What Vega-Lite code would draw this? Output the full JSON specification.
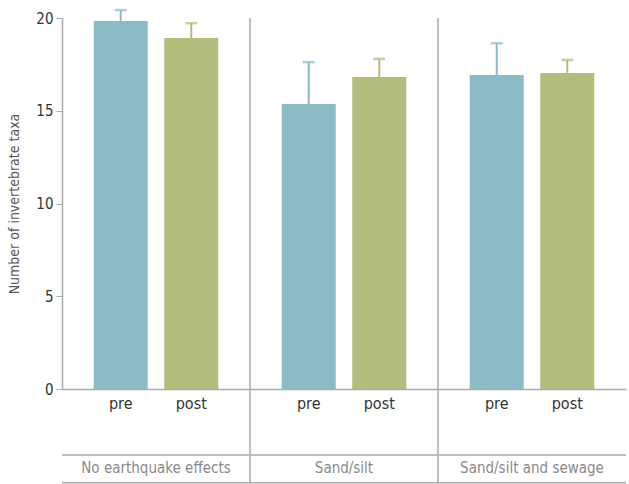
{
  "$schema": "https://vega.github.io/schema/vega-lite/v6.json",
  "width": 564,
  "height": 371,
  "autosize": {"type": "none"},
  "padding": {"left": 62, "top": 18, "right": 3, "bottom": 95},
  "background": "white",
  "config": {
    "view": {"stroke": null},
    "font": "Liberation Sans Narrow, DejaVu Sans Condensed, Roboto Condensed, Arial Narrow, sans-serif"
  },
  "datasets": {
    "bars": [
      {"group": "No earthquake effects", "period": "pre", "value": 19.84, "upper": 20.43},
      {"group": "No earthquake effects", "period": "post", "value": 18.92, "upper": 19.72},
      {"group": "Sand/silt", "period": "pre", "value": 15.36, "upper": 17.62},
      {"group": "Sand/silt", "period": "post", "value": 16.82, "upper": 17.8},
      {"group": "Sand/silt and sewage", "period": "pre", "value": 16.93, "upper": 18.64},
      {"group": "Sand/silt and sewage", "period": "post", "value": 17.04, "upper": 17.74}
    ],
    "separators": [
      {"group": "Sand/silt", "top": 20, "bottom": -5.1},
      {"group": "Sand/silt and sewage", "top": 20, "bottom": -5.1}
    ],
    "hlines": [
      {"level": -3.56},
      {"level": -5.05}
    ]
  },
  "data": {"name": "bars"},
  "layer": [
    {
      "mark": {"type": "bar"},
      "encoding": {
        "x": {
          "field": "group", "type": "nominal", "sort": null,
          "scale": {"domain": ["No earthquake effects", "Sand/silt", "Sand/silt and sewage"], "paddingInner": 0, "paddingOuter": 0},
          "axis": {"title": null, "ticks": false, "domainColor": "#aaaaaa", "domainWidth": 1.5, "labelPadding": 71, "labelFontSize": 15, "labelColor": "#8a8a8a", "labelAngle": 0}
        },
        "xOffset": {"field": "period", "type": "nominal", "scale": {"domain": ["pre", "post"], "paddingInner": 0.234, "paddingOuter": 0.45}},
        "y": {
          "field": "value", "type": "quantitative",
          "scale": {"domain": [0, 20], "nice": false},
          "axis": {"title": "Number of invertebrate taxa", "values": [0, 5, 10, 15, 20], "grid": false, "domainColor": "#aaaaaa", "domainWidth": 1.5, "tickColor": "#aaaaaa", "tickSize": 6, "labelPadding": 3, "labelFontSize": 15, "labelColor": "#333333", "titleFontSize": 14, "titleFontWeight": "normal", "titleColor": "#555555", "titlePadding": 14}
        },
        "color": {"field": "period", "type": "nominal", "scale": {"domain": ["pre", "post"], "range": ["#8cbac5", "#b2bd7e"]}, "legend": null}
      }
    },
    {
      "mark": {"type": "rule", "strokeWidth": 2},
      "encoding": {
        "x": {"field": "group", "type": "nominal", "sort": null},
        "xOffset": {"field": "period", "type": "nominal"},
        "y": {"field": "value", "type": "quantitative"},
        "y2": {"field": "upper"},
        "color": {"field": "period", "type": "nominal", "legend": null}
      }
    },
    {
      "mark": {"type": "tick", "size": 12, "thickness": 2.5, "orient": "horizontal"},
      "encoding": {
        "x": {"field": "group", "type": "nominal", "sort": null},
        "xOffset": {"field": "period", "type": "nominal"},
        "y": {"field": "upper", "type": "quantitative"},
        "color": {"field": "period", "type": "nominal", "legend": null}
      }
    },
    {
      "mark": {"type": "text", "dy": 15, "baseline": "middle", "fontSize": 16, "fontWeight": 500, "color": "#333333"},
      "encoding": {
        "x": {"field": "group", "type": "nominal", "sort": null},
        "xOffset": {"field": "period", "type": "nominal"},
        "y": {"datum": 0, "type": "quantitative"},
        "text": {"field": "period"}
      }
    },
    {
      "data": {"name": "separators"},
      "mark": {"type": "rule", "color": "#aaaaaa", "strokeWidth": 1.5},
      "encoding": {
        "x": {"field": "group", "type": "nominal", "bandPosition": 0, "sort": null},
        "y": {"field": "top", "type": "quantitative"},
        "y2": {"field": "bottom"}
      }
    },
    {
      "data": {"name": "hlines"},
      "mark": {"type": "rule", "color": "#aaaaaa", "strokeWidth": 1.5},
      "encoding": {
        "y": {"field": "level", "type": "quantitative"}
      }
    }
  ]
}
